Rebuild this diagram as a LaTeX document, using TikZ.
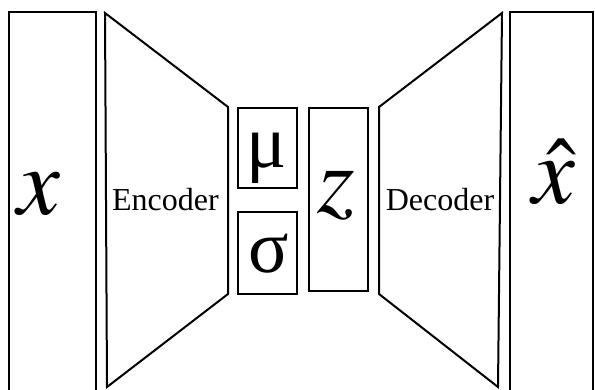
\documentclass[tikz,border=0pt]{standalone}
\usepackage{mathptmx}
\usepackage[no-math]{fontspec}
\setmainfont{Liberation Serif}
\usetikzlibrary{positioning}
\tikzset{
  blockline/.style={draw=black, line width=2pt},
  latentbox/.style={rectangle, draw=black, line width=2pt, inner sep=0pt},
  bigsym/.style={font=\fontsize{96}{96}\selectfont, inner sep=0pt, anchor=base},
  greeksym/.style={font=\fontsize{75}{75}\selectfont, inner sep=0pt, anchor=base},
  netlabel/.style={font=\fontsize{32}{32}\selectfont, inner sep=0pt, anchor=base},
}

\begin{document}
\begin{tikzpicture}[x=1pt, y=-1pt]
  \useasboundingbox (0,0) rectangle (595,389);
  \clip (0,0) rectangle (595,389);
  % input and reconstruction columns (cut by the frame)
  \draw[blockline] (9,400) -- (9,12) -- (96,12) -- (96,400);
  \draw[blockline] (510,400) -- (510,12) -- (593,12) -- (593,400);
  \node[bigsym] (xin) at (38.5,214) {$x$};
  \node[bigsym] (xout) at (554,203) {$\hat{x}$};
  % encoder / decoder trapezoids
  \draw[blockline] (105,13) -- (228,107) -- (228,294) -- (107,387) -- cycle;
  \draw[blockline] (502,13) -- (379,107) -- (379,294) -- (498,387) -- cycle;
  \node[netlabel] (enc) at (165.5,210) {Encoder};
  \node[netlabel] (dec) at (440,210) {Decoder};
  % latent boxes
  \node[latentbox, minimum width=59pt, minimum height=80pt] (mubox) at (267.5,148) {};
  \node[latentbox, minimum width=59pt, minimum height=82pt] (sigmabox) at (267.5,253) {};
  \node[latentbox, minimum width=59pt, minimum height=183pt] (zbox) at (338.5,199.5) {};
  \node[greeksym] (mu) at (266.5,167) {μ};
  \node[greeksym] (sigma) at (269,272) {σ};
  \node[bigsym] (z) at (336,212) {$z$};
\end{tikzpicture}
\end{document}
